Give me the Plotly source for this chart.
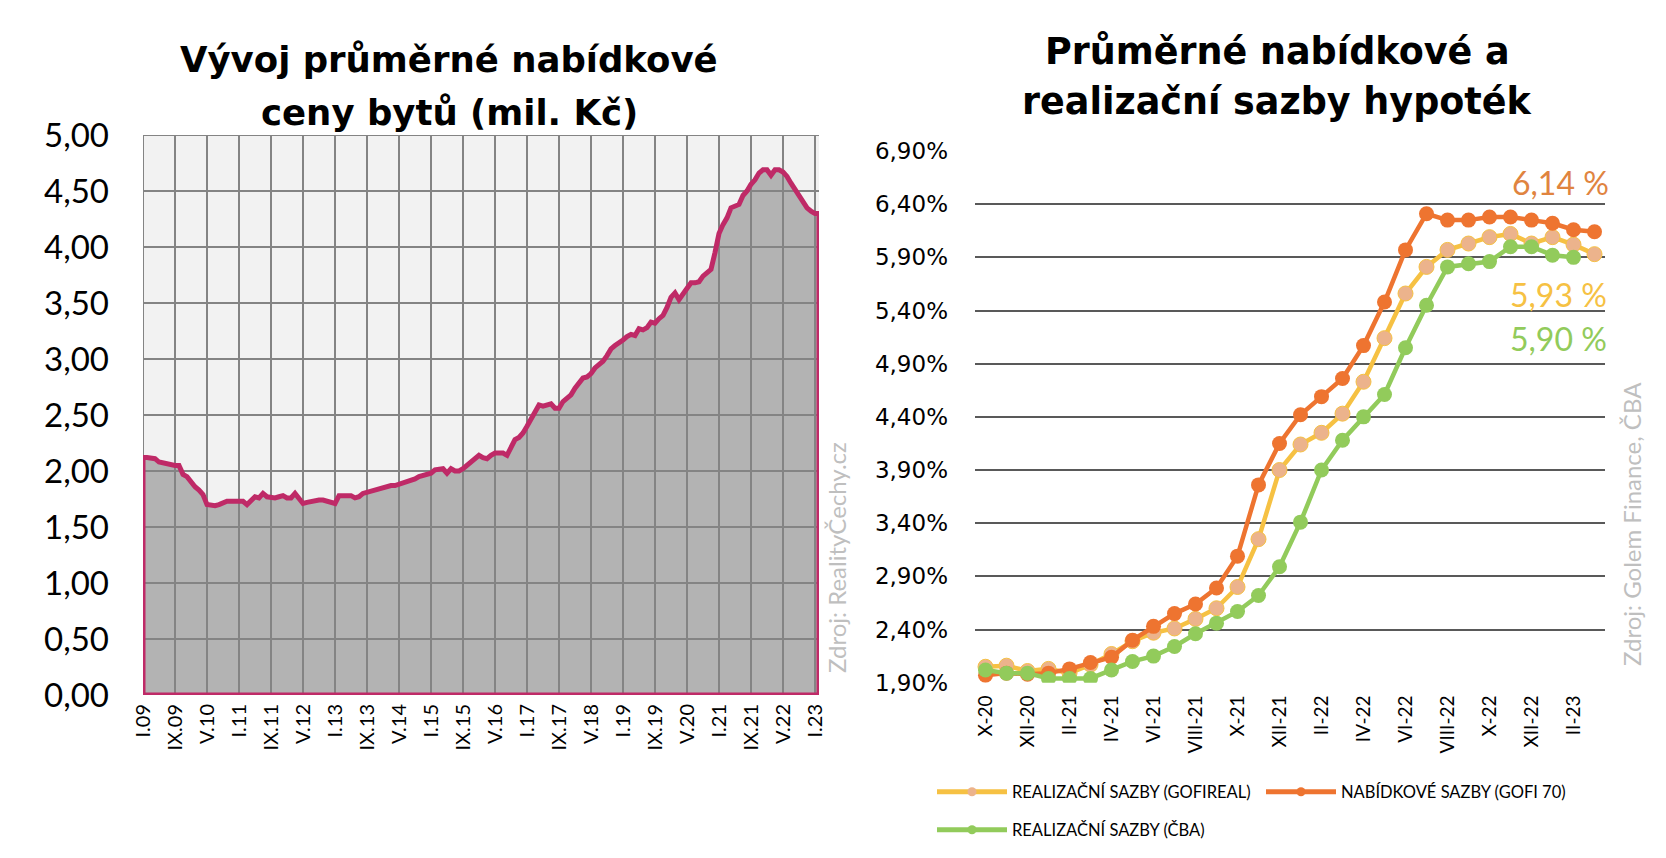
import plotly.graph_objects as go

# ---------------- data: left chart (average asking price of flats, mil. CZK) -------------
price_labels = ["I.09", "IX.09", "V.10", "I.11", "IX.11", "V.12", "I.13", "IX.13", "V.14",
                "I.15", "IX.15", "V.16", "I.17", "IX.17", "V.18", "I.19", "IX.19", "V.20",
                "I.21", "IX.21", "V.22", "I.23"]
price_label_step = 8  # months between labels

price_2009 = [2.12, 2.12, 2.11, 2.11, 2.08, 2.07, 2.06, 2.05, 2.05, 2.05, 1.97, 1.95]
price_2010 = [1.90, 1.86, 1.83, 1.79, 1.70, 1.69, 1.69, 1.70, 1.72, 1.73, 1.73, 1.73]
price_2011 = [1.73, 1.73, 1.70, 1.73, 1.77, 1.76, 1.80, 1.77, 1.76, 1.76, 1.77, 1.78]
price_2012 = [1.76, 1.76, 1.80, 1.75, 1.71, 1.72, 1.73, 1.74, 1.74, 1.74, 1.73, 1.72]
price_2013 = [1.71, 1.78, 1.78, 1.78, 1.78, 1.76, 1.77, 1.80, 1.81, 1.82, 1.83, 1.84]
price_2014 = [1.86, 1.86, 1.87, 1.87, 1.88, 1.89, 1.90, 1.92, 1.93, 1.95, 1.96, 1.96]
price_2015 = [1.98, 2.01, 2.02, 2.02, 1.98, 2.02, 2.00, 2.00, 2.02, 2.05, 2.08, 2.11]
price_2016 = [2.14, 2.12, 2.11, 2.14, 2.16, 2.16, 2.16, 2.14, 2.20, 2.28, 2.30, 2.34]
price_2017 = [2.40, 2.46, 2.54, 2.59, 2.58, 2.59, 2.60, 2.56, 2.56, 2.62, 2.65, 2.68]
price_2018 = [2.74, 2.78, 2.83, 2.84, 2.87, 2.92, 2.95, 2.98, 3.03, 3.09, 3.12, 3.14]
price_2019 = [3.17, 3.20, 3.22, 3.21, 3.27, 3.26, 3.28, 3.33, 3.32, 3.36, 3.39, 3.46]
price_2020 = [3.55, 3.59, 3.53, 3.58, 3.64, 3.68, 3.68, 3.69, 3.74, 3.77, 3.80, 3.95]
price_2021 = [4.12, 4.20, 4.26, 4.35, 4.36, 4.38, 4.46, 4.50, 4.56, 4.60, 4.66, 4.69]
price_2022 = [4.69, 4.64, 4.69, 4.69, 4.67, 4.63, 4.57, 4.51, 4.45, 4.40, 4.35, 4.32]
price_2023 = [4.30, 4.30]

price_values = (price_2009 + price_2010 + price_2011 + price_2012 + price_2013 + price_2014
                + price_2015 + price_2016 + price_2017 + price_2018 + price_2019 + price_2020
                + price_2021 + price_2022 + price_2023)
price_yticks = [0.0, 0.5, 1.0, 1.5, 2.0, 2.5, 3.0, 3.5, 4.0, 4.5, 5.0]

# ---------------- data: right chart (mortgage rates, %) -------------------------------------
rate_months = ["X-20", "XI-20", "XII-20", "I-21", "II-21", "III-21", "IV-21", "V-21", "VI-21",
               "VII-21", "VIII-21", "IX-21", "X-21", "XI-21", "XII-21", "I-22", "II-22",
               "III-22", "IV-22", "V-22", "VI-22", "VII-22", "VIII-22", "IX-22", "X-22",
               "XI-22", "XII-22", "I-23", "II-23", "III-23"]
gofireal = [2.05, 2.06, 2.01, 2.03, 1.99, 2.07, 2.17, 2.29, 2.37, 2.41, 2.50, 2.60, 2.80, 3.25,
            3.90, 4.14, 4.25, 4.43, 4.73, 5.14, 5.56, 5.81, 5.97, 6.03, 6.09, 6.12, 6.03, 6.09,
            6.02, 5.93]
gofi70 = [1.97, 1.99, 1.98, 1.99, 2.03, 2.09, 2.14, 2.30, 2.43, 2.55, 2.64, 2.79, 3.09, 3.76,
          4.15, 4.42, 4.59, 4.76, 5.07, 5.48, 5.97, 6.31, 6.25, 6.25, 6.28, 6.28, 6.25, 6.22,
          6.16, 6.14]
cba = [2.02, 1.99, 1.99, 1.94, 1.94, 1.94, 2.02, 2.10, 2.15, 2.24, 2.36, 2.46, 2.57, 2.72,
       2.99, 3.41, 3.90, 4.18, 4.40, 4.61, 5.05, 5.45, 5.81, 5.84, 5.86, 6.00, 6.00, 5.92, 5.90]
rate_yticks = [1.9, 2.4, 2.9, 3.4, 3.9, 4.4, 4.9, 5.4, 5.9, 6.4, 6.9]
rate_label_step = 2
series_names = ["REALIZAČNÍ SAZBY (GOFIREAL)", "NABÍDKOVÉ SAZBY (GOFI 70)",
                "REALIZAČNÍ SAZBY (ČBA)"]

# ---------------- styles -------------------------------------------------------------------
W, H = 1666, 858
MAG = "#BF2A67"
AREA = "#B3B3B3"
BG_LEFT = "#F2F2F2"
GRID_LEFT = "#848484"
GRID_RIGHT = "#595959"
ORANGE = "#EE7430"
YELLOW = "#F6C143"
PEACH = "#ECB38C"
GREEN = "#92CB5B"
SRC = "#BFBFBF"
FONT = "Lato"
TITLE_FONT = "DejaVu Sans"


def px_x(p):
    return p / W


def px_y(p):
    return 1 - p / H


def fmt_dec(v, suffix=""):
    return f"{v:.2f}".replace(".", ",") + suffix


fig = go.Figure()

# ---------------- left chart -------------------------------------------------------------
n = len(price_values)
idx = list(range(n))
poly_x = [0] + idx + [n - 1, 0]
poly_y = [0] + price_values + [0, 0]

fig.add_trace(go.Scatter(x=poly_x, y=poly_y, mode="lines", fill="toself", fillcolor=AREA,
                         line=dict(width=0), hoverinfo="skip", showlegend=False,
                         xaxis="x", yaxis="y"))

# gridlines drawn over the filled area (as in the original)
x_ticks = [i * price_label_step for i in range(len(price_labels))]
gx, gy = [], []
for t in x_ticks:
    gx += [t, t, None]
    gy += [price_yticks[0], price_yticks[-1], None]
for t in price_yticks:
    gx += [0, n - 1, None]
    gy += [t, t, None]
fig.add_trace(go.Scatter(x=gx, y=gy, mode="lines", line=dict(color=GRID_LEFT, width=2),
                         hoverinfo="skip", showlegend=False, xaxis="x", yaxis="y"))

fig.add_trace(go.Scatter(x=poly_x, y=poly_y, mode="lines", line=dict(color=MAG, width=5),
                         hoverinfo="skip", showlegend=False, xaxis="x", yaxis="y"))

# ---------------- right chart ------------------------------------------------------------
series = [(gofireal, YELLOW, PEACH, "legend"), (gofi70, ORANGE, ORANGE, "legend"),
          (cba, GREEN, GREEN, "legend2")]
for (vals, lc, mc, lg), name in zip(series, series_names):
    fig.add_trace(go.Scatter(x=list(range(len(vals))), y=vals, mode="lines+markers",
                             name=name, line=dict(color=lc, width=4.5),
                             marker=dict(color=mc, size=15,
                                         line=dict(color=lc, width=1 if mc != lc else 0)),
                             showlegend=False, xaxis="x2", yaxis="y2"))
# legend entries (smaller marker, like the original legend)
for (vals, lc, mc, lg), name in zip(series, series_names):
    fig.add_trace(go.Scatter(x=[None], y=[None], mode="lines+markers", name=name,
                             line=dict(color=lc, width=5), marker=dict(color=mc, size=9),
                             xaxis="x2", yaxis="y2", legend=lg, hoverinfo="skip"))

r_ticks = list(range(0, len(rate_months), rate_label_step))

fig.update_layout(
    width=W, height=H,
    margin=dict(l=0, r=0, t=0, b=0, autoexpand=False),
    paper_bgcolor="white",
    plot_bgcolor="white",
    separators=", ",
    font=dict(family=FONT, color="black"),
    xaxis=dict(domain=[px_x(143), px_x(819)], range=[0, n - 1], tickmode="array",
               tickvals=x_ticks, ticktext=price_labels, tickangle=-90,
               tickfont=dict(size=20, family=FONT), showgrid=False, zeroline=False,
               showline=False, ticks="", anchor="y", fixedrange=True, automargin=False,
               ticklabelstandoff=4),
    yaxis=dict(domain=[px_y(695), px_y(135)], range=[0, 5], tickmode="array",
               tickvals=price_yticks, ticktext=[fmt_dec(v) for v in price_yticks],
               tickfont=dict(size=33, family=FONT),
               showgrid=False, zeroline=False, showline=False, ticks="", anchor="x",
               ticklabelstandoff=33, fixedrange=True, automargin=False),
    xaxis2=dict(domain=[px_x(975), px_x(1605)], range=[-0.5, len(rate_months) - 0.5],
                tickmode="array", tickvals=r_ticks,
                ticktext=[rate_months[i] for i in r_ticks], tickangle=-90,
                tickfont=dict(size=19, family=FONT), showgrid=False, zeroline=False,
                showline=False, ticks="", anchor="y2", ticklabelstandoff=8, fixedrange=True,
                automargin=False),
    yaxis2=dict(domain=[px_y(682.7), px_y(151)], range=[rate_yticks[0], rate_yticks[-1]],
                tickmode="array", tickvals=rate_yticks,
                ticktext=[fmt_dec(v, "%") for v in rate_yticks],
                tickfont=dict(size=23, family="DejaVu Sans"), showgrid=True,
                gridcolor=GRID_RIGHT, gridwidth=2, zeroline=False, showline=False, ticks="",
                anchor="x2", ticklabelstandoff=26, fixedrange=True, automargin=False),
    legend=dict(orientation="h", x=px_x(932), y=px_y(792), xanchor="left", yanchor="middle",
                font=dict(size=16.5, family=FONT), entrywidth=244, itemwidth=70,
                bgcolor="rgba(0,0,0,0)", tracegroupgap=0),
    legend2=dict(orientation="h", x=px_x(932), y=px_y(830), xanchor="left", yanchor="middle",
                 font=dict(size=16.5, family=FONT), itemwidth=70, bgcolor="rgba(0,0,0,0)"),
    annotations=[
        dict(text="<b>Vývoj průměrné nabídkové</b>", x=px_x(449), y=px_y(59),
             xref="paper", yref="paper", xanchor="center", yanchor="middle",
             showarrow=False, font=dict(size=35.5, family=TITLE_FONT)),
        dict(text="<b>ceny bytů (mil. Kč)</b>", x=px_x(449), y=px_y(112),
             xref="paper", yref="paper", xanchor="center", yanchor="middle",
             showarrow=False, font=dict(size=35.5, family=TITLE_FONT)),
        dict(text="<b>Průměrné nabídkové a</b>", x=px_x(1277), y=px_y(52),
             xref="paper", yref="paper", xanchor="center", yanchor="middle",
             showarrow=False, font=dict(size=36.5, family=TITLE_FONT)),
        dict(text="<b>realizační sazby hypoték</b>", x=px_x(1277), y=px_y(102),
             xref="paper", yref="paper", xanchor="center", yanchor="middle",
             showarrow=False, font=dict(size=36.5, family=TITLE_FONT)),
        dict(text="6,14 %", x=px_x(1560), y=px_y(182), xref="paper", yref="paper",
             xanchor="center", yanchor="middle", showarrow=False,
             font=dict(size=32, family=FONT, color="#E0843F")),
        dict(text="5,93 %", x=px_x(1558), y=px_y(294), xref="paper", yref="paper",
             xanchor="center", yanchor="middle", showarrow=False,
             font=dict(size=32, family=FONT, color=YELLOW)),
        dict(text="5,90 %", x=px_x(1558), y=px_y(338), xref="paper", yref="paper",
             xanchor="center", yanchor="middle", showarrow=False,
             font=dict(size=32, family=FONT, color=GREEN)),
        dict(text="Zdroj: RealityČechy.cz", x=px_x(836), y=px_y(558), xref="paper",
             yref="paper", xanchor="center", yanchor="middle", textangle=-90,
             showarrow=False, font=dict(size=24, family=FONT, color=SRC)),
        dict(text="Zdroj: Golem Finance, ČBA", x=px_x(1631), y=px_y(524), xref="paper",
             yref="paper", xanchor="center", yanchor="middle", textangle=-90,
             showarrow=False, font=dict(size=24, family=FONT, color=SRC)),
    ],
)

# left plot background only
fig.add_shape(type="rect", xref="x domain", yref="y domain", x0=0, x1=1, y0=0, y1=1,
              fillcolor=BG_LEFT, line=dict(width=0), layer="below")

fig.write_html("out.html")
